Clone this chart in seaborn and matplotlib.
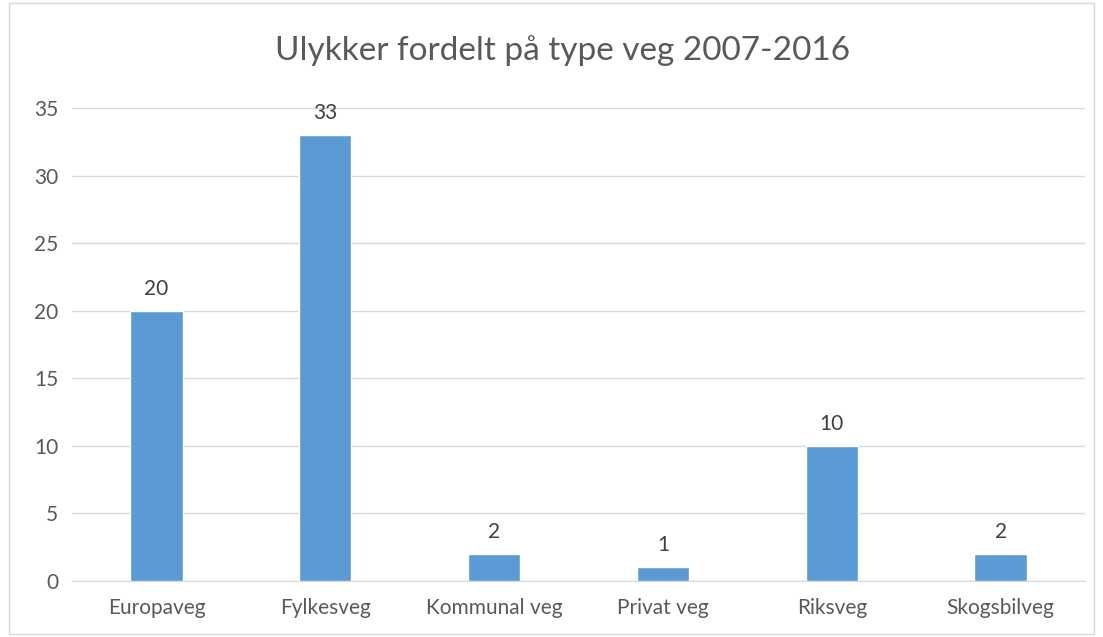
import matplotlib.pyplot as plt
import pandas as pd
import seaborn as sns
from matplotlib.patches import Rectangle

categories = ["Europaveg", "Fylkesveg", "Kommunal veg", "Privat veg", "Riksveg", "Skogsbilveg"]
counts = [20, 33, 2, 1, 10, 2]
y_ticks = [0, 5, 10, 15, 20, 25, 30, 35]

df = pd.DataFrame({"type": categories, "antall": counts})

sns.set_style("white")
plt.rcParams["font.family"] = ["Lato", "DejaVu Sans"]

text_color = "#595959"
fig = plt.figure(figsize=(11.03, 6.37), dpi=100)
ax = fig.add_axes([0.0653, 0.0879, 0.9184, 0.7426])

sns.barplot(data=df, x="type", y="antall", color="#5B9BD5", width=0.31,
            saturation=1, ax=ax, zorder=3)

ax.set_ylim(0, 35)
ax.set_yticks(y_ticks)
ax.set_xlim(-0.5, len(categories) - 0.5)
ax.grid(axis="y", color="#D9D9D9", linewidth=1, zorder=0)
ax.set_xlabel("")
ax.set_ylabel("")
for side in ["top", "right", "left"]:
    ax.spines[side].set_visible(False)
ax.spines["bottom"].set_color("#D9D9D9")
ax.tick_params(axis="both", length=0, labelsize=15, colors=text_color)
ax.tick_params(axis="x", pad=12)
ax.tick_params(axis="y", pad=10)

for i, v in enumerate(counts):
    ax.text(i, v + 0.9, str(v), ha="center", va="bottom", fontsize=15, color="#404040")

fig.text(0.51, 0.921, "Ulykker fordelt på type veg 2007-2016", ha="center", va="center",
         fontsize=24, color=text_color)

fig.patches.append(Rectangle((0.008, 0.005), 0.984, 0.99, transform=fig.transFigure,
                             fill=False, edgecolor="#D9D9D9", linewidth=1))

fig.savefig("out.png", dpi=100)
